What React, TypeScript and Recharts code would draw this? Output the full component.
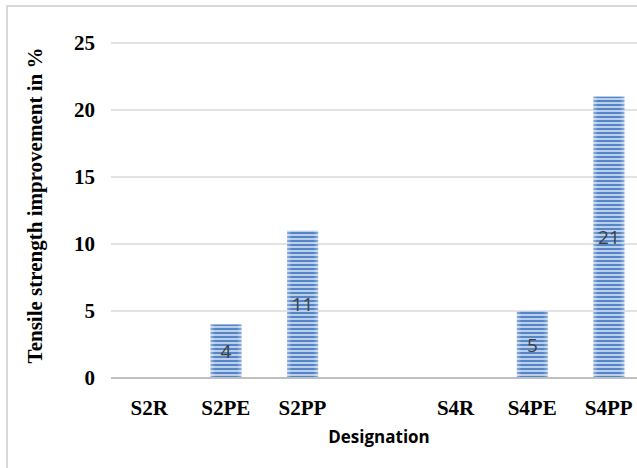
import React from 'react';
import { BarChart, Bar, XAxis, YAxis, CartesianGrid, LabelList } from 'recharts';

const designations = ['S2R', 'S2PE', 'S2PP', '', 'S4R', 'S4PE', 'S4PP'];
const improvement = [0, 4, 11, null, 0, 5, 21];
const yTicks = [0, 5, 10, 15, 20, 25];

const data = designations.map((name, i) => ({ name, value: improvement[i] }));

const serif = '"Liberation Serif", "Times New Roman", serif';
const sans = '"Open Sans", "Liberation Sans", sans-serif';

const renderValue = (props: any) => {
  const { x, y, width, height, value } = props;
  if (!value) return null;
  return (
    <text
      x={x + width / 2}
      y={y + height / 2}
      textAnchor="middle"
      dominantBaseline="central"
      fill="#404040"
      fontSize={19}
      fontFamily={sans}
    >
      {value}
    </text>
  );
};

// striped bar with slightly lighter side edges
const StripedBar = (props: any) => {
  const { x, y, width, height } = props;
  if (!height || height <= 0) return null;
  return (
    <g>
      <rect x={x} y={y} width={width} height={height} fill="url(#stripes)" />
      <rect x={x} y={y} width={width} height={height} fill="url(#edgeShine)" />
    </g>
  );
};

export default function App() {
  return (
    <div
      style={{
        position: 'fixed',
        left: 0,
        top: 0,
        width: 637,
        height: 468,
        overflow: 'hidden',
        background: '#fff',
      }}
    >
      <div style={{ position: 'absolute', left: 0, top: 0 }}>
        <BarChart
          width={660}
          height={480}
          data={data}
          margin={{ top: 43, right: 13, left: 51, bottom: 32 }}
          barCategoryGap="30%"
        >
          <defs>
            <pattern id="stripes" width="8" height="4" patternUnits="userSpaceOnUse">
              <rect width="8" height="4" fill="#b9cfeb" />
              <rect width="8" height="2" fill="#5585c5" />
            </pattern>
            <linearGradient id="edgeShine" x1="0" y1="0" x2="1" y2="0">
              <stop offset="0" stopColor="#fff" stopOpacity={0.35} />
              <stop offset="0.15" stopColor="#fff" stopOpacity={0} />
              <stop offset="0.85" stopColor="#fff" stopOpacity={0} />
              <stop offset="1" stopColor="#fff" stopOpacity={0.35} />
            </linearGradient>
          </defs>
          <CartesianGrid vertical={false} stroke="#d9d9d9" strokeWidth={1.5} />
          <XAxis
            dataKey="name"
            axisLine={{ stroke: '#bfbfbf', strokeWidth: 2 }}
            tickLine={false}
            interval={0}
            height={70}
            tick={{ fill: '#000', fontSize: 21, fontWeight: 'bold', fontFamily: serif, dy: 14 }}
            label={{
              value: 'Designation',
              position: 'insideBottom',
              offset: 5,
              fill: '#000',
              fontSize: 17,
              fontWeight: 'bold',
              fontFamily: sans,
            }}
          />
          <YAxis
            domain={[0, 25]}
            ticks={yTicks}
            axisLine={false}
            tickLine={false}
            width={60}
            tickMargin={10}
            tick={{ fill: '#000', fontSize: 21, fontWeight: 'bold', fontFamily: serif }}
            label={{
              value: 'Tensile strength improvement in %',
              angle: -90,
              position: 'center',
              dx: -46,
              dy: -5,
              fill: '#000',
              fontSize: 21,
              fontWeight: 'bold',
              fontFamily: serif,
            }}
          />
          <Bar dataKey="value" shape={<StripedBar />} isAnimationActive={false}>
            <LabelList dataKey="value" content={renderValue} />
          </Bar>
        </BarChart>
      </div>
      <div
        style={{
          position: 'absolute',
          left: 6,
          top: 5,
          width: 700,
          height: 600,
          borderLeft: '2px solid #d9d9d9',
          borderTop: '2px solid #d9d9d9',
          pointerEvents: 'none',
        }}
      />
    </div>
  );
}
